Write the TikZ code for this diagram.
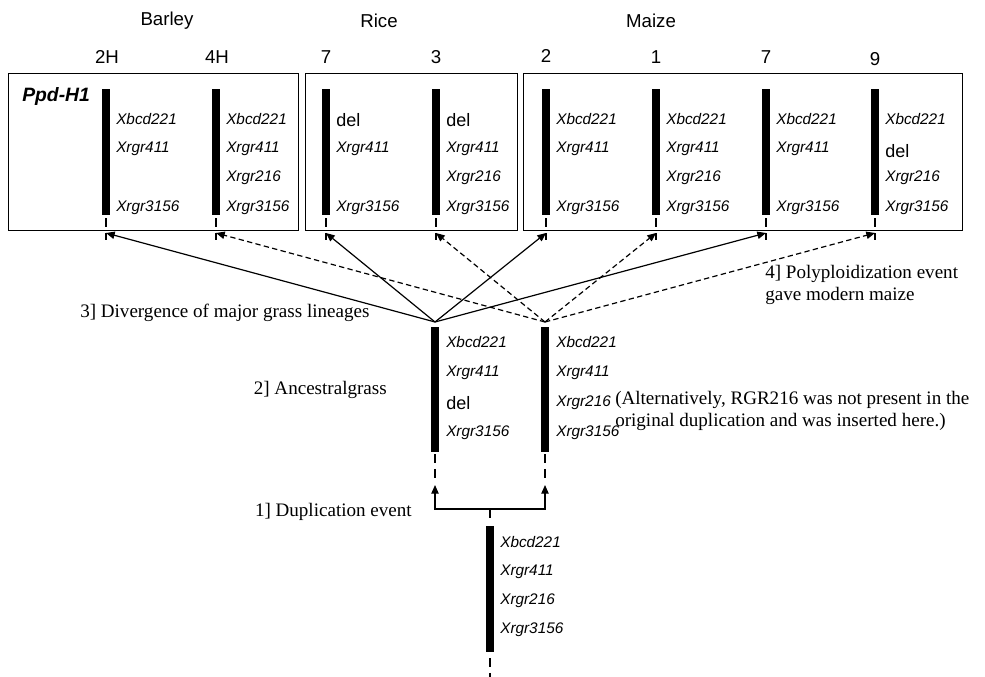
\documentclass[tikz,border=0pt]{standalone}
\usepackage{fontspec}
\setmainfont{Liberation Serif}
\setsansfont{Liberation Sans}
\usetikzlibrary{arrows.meta}
\begin{document}
\begin{tikzpicture}[x=0.75pt,y=-0.75pt,
  title/.style={font=\sffamily\fontsize{14}{16}\selectfont, inner sep=0pt},
  mk/.style={font=\sffamily\itshape\fontsize{11.5}{13}\selectfont, anchor=west, inner sep=0pt},
  delm/.style={font=\sffamily\fontsize{13.5}{15}\selectfont, anchor=west, inner sep=0pt},
  note/.style={font=\fontsize{14.3}{17}\selectfont, inner sep=0pt, align=left},
  box/.style={draw, line width=0.75pt, inner sep=0pt, minimum height=117.75pt},
  topbar/.style={fill=black, inner sep=0pt, minimum width=6pt, minimum height=94.5pt},
  stub/.style={line width=2pt, dash pattern=on 6.5pt off 4.5pt},
  link/.style={line width=0.9pt, -{Triangle[length=6.5pt,width=5.5pt]}},
  dlink/.style={link, dash pattern=on 4pt off 2.5pt},
]
\useasboundingbox (0,0) rectangle (985,677);

% titles
\node[title] (tBarley) at (167,21) {Barley};
\node[title] (tRice) at (379,21) {Rice};
\node[title] (tMaize) at (651,21) {Maize};

% chromosome numbers
\node[title] (n1) at (107,57) {2H};
\node[title] (n2) at (217,57) {4H};
\node[title] (n3) at (326,57) {7};
\node[title] (n4) at (436,57) {3};
\node[title] (n5) at (546,56) {2};
\node[title] (n6) at (656,57) {1};
\node[title] (n7) at (766,57) {7};
\node[title] (n8) at (875,59) {9};

% boxes
\node[box, minimum width=217.5pt] (B1) at (153,152.5) {};
\node[box, minimum width=159pt] (B2) at (411,152.5) {};
\node[box, minimum width=329.25pt] (B3) at (742.5,152.5) {};

\node[font=\sffamily\bfseries\itshape\fontsize{14.5}{16}\selectfont, anchor=west, inner sep=0pt] (ppd) at (22,97) {Ppd-H1};

% top chromosomes
\foreach \i/\x in {1/106,2/216,3/326,4/436,5/546,6/656,7/766,8/875}{
  \node[topbar] (c\i) at (\x,152) {};
  \draw[stub] (c\i.south) ++(0,3) -- ++(0,22);
  \coordinate (t\i) at (\x,233);
}

% markers, top
\foreach \i/\x in {1/106,2/216,5/546,6/656,7/766,8/875}{
  \node[mk] (x\i) at (\x+10,119) {Xbcd221};}
\foreach \i/\x in {3/326,4/436}{
  \node[delm] (d\i) at (\x+10,120) {del};}
\foreach \i/\x in {1/106,2/216,3/326,4/436,5/546,6/656,7/766}{
  \node[mk] (r\i) at (\x+10,149) {Xrgr411};}
\node[delm] (d8) at (885,151) {del};
\foreach \i/\x in {2/216,4/436,6/656,8/875}{
  \node[mk] (g\i) at (\x+10,178) {Xrgr216};}
\foreach \i/\x in {1/106,2/216,3/326,4/436,5/546,6/656,7/766,8/875}{
  \node[mk] (s\i) at (\x+10,208) {Xrgr3156};}

% ancestral chromosomes
\node[topbar, minimum height=93.75pt] (mL) at (435,389.5) {};
\node[topbar, minimum height=93.75pt] (mR) at (545,389.5) {};
\draw[stub] (mL.south) ++(0,2) -- ++(0,26);
\draw[stub] (mR.south) ++(0,2) -- ++(0,26);
\coordinate (aL) at (435,322);
\coordinate (aR) at (545,322);

\node[mk] (mLa) at (446,342) {Xbcd221};
\node[mk] (mLb) at (446,373) {Xrgr411};
\node[delm] (mLc) at (446,403) {del};
\node[mk] (mLd) at (446,433) {Xrgr3156};
\node[mk] (mRa) at (556,342) {Xbcd221};
\node[mk] (mRb) at (556,373) {Xrgr411};
\node[mk] (mRc) at (556,403) {Xrgr216};
\node[mk] (mRd) at (556,433) {Xrgr3156};

% divergence arrows
\draw[link] (aL) -- (t1);
\draw[link] (aL) -- (t3);
\draw[link] (aL) -- (t5);
\draw[link] (aL) -- (t7);
\draw[dlink] (aR) -- (t2);
\draw[dlink] (aR) -- (t4);
\draw[dlink] (aR) -- (t6);
\draw[dlink] (aR) -- (t8);

% original chromosome
\node[topbar] (c0) at (490,589) {};
\draw[stub] (c0.south) ++(0,6) -- ++(0,20);
\node[mk] (oa) at (500,542) {Xbcd221};
\node[mk] (ob) at (500,572) {Xrgr411};
\node[mk] (oc) at (500,601) {Xrgr216};
\node[mk] (od) at (500,630) {Xrgr3156};

% duplication
\coordinate (fork) at (490,509);
\coordinate (forkdown) at (490,518);
\coordinate (upL) at (435,485);
\coordinate (upR) at (545,485);
\draw[line width=0.9pt] (fork) -- (forkdown);
\draw[link] (fork) -| (upL);
\draw[link] (fork) -| (upR);

% notes
\node[note, anchor=west] (lab3) at (80,313) {3] Divergence of major grass lineages};
\node[note, anchor=east] (lab2) at (387,390) {2] Ancestralgrass};
\node[note, anchor=east] (lab1) at (412,512) {1] Duplication event};
\node[note, anchor=west] (lab4) at (765,285) {4] Polyploidization event\\gave modern maize};
\node[note, anchor=west] (alt) at (615,411) {(Alternatively, RGR216 was not present in the\\original duplication and was inserted here.)};
\end{tikzpicture}
\end{document}
